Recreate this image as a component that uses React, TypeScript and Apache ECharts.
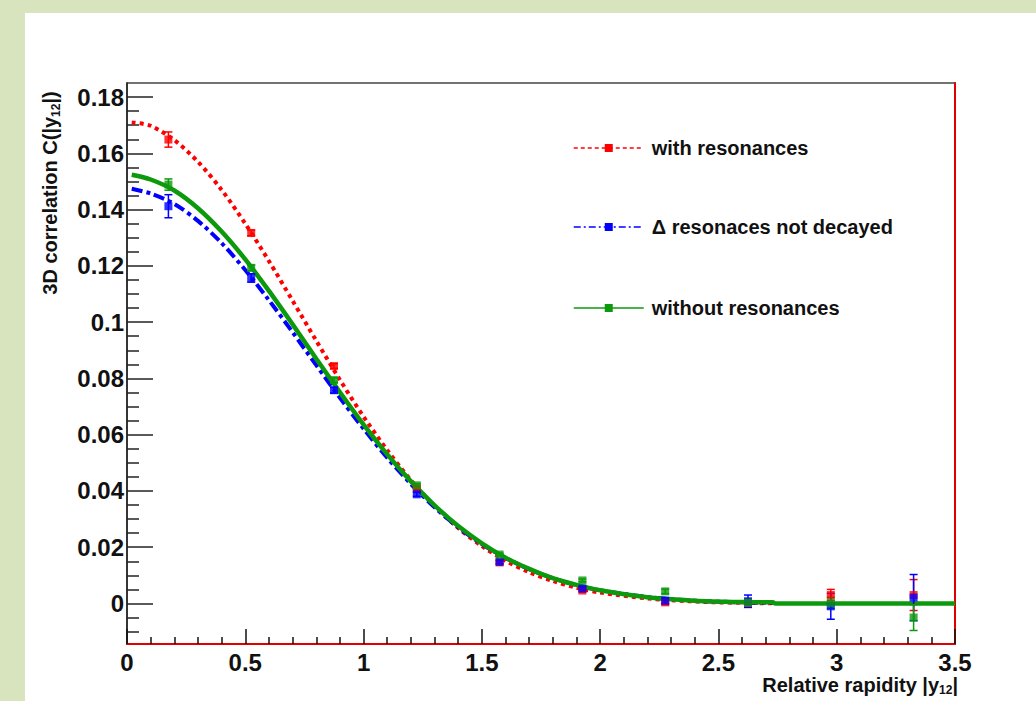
import React, { useEffect, useRef } from "react";
import * as echarts from "echarts";

const FONT = '"Liberation Sans", Arial, Helvetica, sans-serif';

// Histogram bin centres (relative rapidity)
const binX = [0.175, 0.525, 0.875, 1.225, 1.575, 1.925, 2.275, 2.625, 2.975, 3.325];

// Points with error bars
const redPts = [0.1649, 0.1317, 0.0844, 0.041, 0.0146, 0.0046, 0.0004, 0.0002, 0.003, 0.003];
const redErr = [0.0027, 0.001, 0.0008, 0.0006, 0.0005, 0.0005, 0.0008, 0.0012, 0.002, 0.0055];
const bluePts = [0.1412, 0.1157, 0.0758, 0.0388, 0.0148, 0.0053, 0.001, 0.0008, -0.001, 0.0021];
const blueErr = [0.0041, 0.0015, 0.001, 0.0007, 0.0006, 0.0006, 0.001, 0.0022, 0.0046, 0.0082];
const greenPts = [0.1489, 0.1193, 0.0794, 0.042, 0.0174, 0.0082, 0.0043, 0.0003, 0.0002, -0.005];
const greenErr = [0.002, 0.001, 0.0008, 0.0006, 0.0005, 0.0005, 0.0008, 0.0012, 0.002, 0.0046];

// Fitted curves
const curveX = [0.02, 0.1, 0.2, 0.3, 0.4, 0.5, 0.6, 0.7, 0.8, 0.9, 1.0, 1.1, 1.2, 1.3, 1.4, 1.5, 1.6, 1.7, 1.8, 1.9, 2.0, 2.2, 2.4, 2.6, 2.73];
const redCurve = [0.171, 0.1698, 0.1647, 0.157, 0.147, 0.135, 0.1217, 0.1076, 0.0934, 0.0795, 0.0664, 0.0545, 0.0438, 0.0346, 0.0268, 0.0204, 0.0152, 0.0111, 0.008, 0.0056, 0.0039, 0.0018, 0.0007, 0.0002, 0.0001];
const blueCurve = [0.1474, 0.1457, 0.142, 0.136, 0.1281, 0.1185, 0.1078, 0.0964, 0.0847, 0.0731, 0.0621, 0.0518, 0.0425, 0.0342, 0.0271, 0.0211, 0.0162, 0.0122, 0.009, 0.0065, 0.0047, 0.0023, 0.001, 0.0004, 0.0002];
const greenCurveX = [0.02, 0.1, 0.2, 0.3, 0.4, 0.5, 0.6, 0.7, 0.8, 0.9, 1.0, 1.1, 1.2, 1.3, 1.4, 1.5, 1.6, 1.7, 1.8, 1.9, 2.0, 2.2, 2.4, 2.6, 2.73, 2.74, 3.0, 3.5];
const greenCurve = [0.1524, 0.1507, 0.1468, 0.1405, 0.1322, 0.1223, 0.1111, 0.0992, 0.087, 0.0751, 0.0636, 0.053, 0.0434, 0.0349, 0.0275, 0.0214, 0.0163, 0.0123, 0.009, 0.0066, 0.0047, 0.0022, 0.001, 0.0005, 0.0004, 0, 0, 0];

const yMajorTicks = [0, 0.02, 0.04, 0.06, 0.08, 0.1, 0.12, 0.14, 0.16, 0.18];
const yMinorTicks = [-0.01, -0.005, 0.005, 0.01, 0.015, 0.025, 0.03, 0.035, 0.045, 0.05, 0.055, 0.065, 0.07, 0.075, 0.085, 0.09, 0.095, 0.105, 0.11, 0.115, 0.125, 0.13, 0.135, 0.145, 0.15, 0.155, 0.165, 0.17, 0.175];

const NAMES = ["with resonances", "\u0394 resonaces not decayed", "without resonances"];
const COLORS = ["#ff0000", "#0000ff", "#0c990c"];
const LINE_TYPES: any[] = [[4, 4], [11, 4, 4, 4], "solid"];
const LINE_WIDTHS = [4, 4, 4.5];
const LEGEND_TYPES: any[] = [[4, 3], [7, 3, 2, 3], "solid"];
const LEGEND_TOPS = [133, 212, 293];

function pairs(xs: number[], ys: number[]) {
  return xs.map((x, i) => [x, ys[i]]);
}
function triples(xs: number[], ys: number[], es: number[]) {
  return xs.map((x, i) => [x, ys[i], es[i]]);
}

export default function App() {
  const ref = useRef<HTMLDivElement>(null);
  useEffect(() => {
    if (!ref.current) return;
    const chart = echarts.init(ref.current, null, { renderer: "svg" });
    const pts = [redPts, bluePts, greenPts];
    const errs = [redErr, blueErr, greenErr];
    const curves = [pairs(curveX, redCurve), pairs(curveX, blueCurve), pairs(greenCurveX, greenCurve)];

    const series: any[] = [];
    NAMES.forEach((name, i) => {
      series.push({
        name,
        type: "line",
        data: curves[i],
        symbol: "rect",
        symbolSize: 8,
        showSymbol: false,
        smooth: 0.3,
        lineStyle: { color: COLORS[i], width: LINE_WIDTHS[i], type: LINE_TYPES[i] },
        itemStyle: { color: COLORS[i] },
        z: 3,
        silent: true,
      });
    });
    NAMES.forEach((name, i) => {
      const color = COLORS[i];
      series.push({
        name: name + " errors",
        type: "custom",
        data: triples(binX, pts[i], errs[i]),
        encode: { x: 0, y: 1 },
        z: 4,
        silent: true,
        renderItem: (params: any, api: any) => {
          const x = api.value(0);
          const y = api.value(1);
          const e = api.value(2);
          const top = api.coord([x, y + e]);
          const bot = api.coord([x, y - e]);
          const hw = 4;
          const style = { stroke: color, lineWidth: 1.5, fill: null };
          return {
            type: "group",
            children: [
              { type: "line", shape: { x1: top[0], y1: top[1], x2: bot[0], y2: bot[1] }, style },
              { type: "line", shape: { x1: top[0] - hw, y1: top[1], x2: top[0] + hw, y2: top[1] }, style },
              { type: "line", shape: { x1: bot[0] - hw, y1: bot[1], x2: bot[0] + hw, y2: bot[1] }, style },
            ],
          };
        },
      });
      series.push({
        name: name + " points",
        type: "scatter",
        data: pairs(binX, pts[i]),
        symbol: "rect",
        symbolSize: 8,
        itemStyle: { color },
        z: 5,
        silent: true,
      });
    });

    const tickLabel = { fontFamily: FONT, fontWeight: "bold", fontSize: 24, color: "#111" };

    chart.setOption({
      animation: false,
      grid: { left: 127, right: 81, top: 83, bottom: 57, show: true, borderColor: "#444", borderWidth: 1.5, backgroundColor: "transparent", outerBoundsMode: "none" },
      legend: NAMES.map((name, i) => ({
        data: [{ name, lineStyle: { width: 1.5, type: LEGEND_TYPES[i], color: COLORS[i] }, itemStyle: { color: COLORS[i] } }],
        left: 568,
        top: LEGEND_TOPS[i],
        itemWidth: 70,
        itemHeight: 10,
        selectedMode: false,
        textStyle: { fontFamily: FONT, fontWeight: "bold", fontSize: 20, color: "#111", padding: [0, 0, 0, 3] },
      })),
      xAxis: {
        type: "value",
        min: 0,
        max: 3.5,
        interval: 0.5,
        axisLine: { show: true, onZero: false, lineStyle: { color: "#e00000", width: 2 } },
        axisTick: { show: true, inside: true, length: 15, lineStyle: { color: "#111", width: 1.5 } },
        minorTick: { show: true, splitNumber: 5, length: 7, lineStyle: { color: "#111", width: 1.5 } },
        splitLine: { show: false },
        minorSplitLine: { show: false },
        axisLabel: { ...tickLabel, margin: 6 },
      },
      yAxis: [
        {
          type: "value",
          min: -0.0144,
          max: 0.185,
          position: "left",
          axisLine: { show: true, onZero: false, lineStyle: { color: "#222", width: 1.5 } },
          axisTick: { show: true, inside: true, length: 26, customValues: yMajorTicks, lineStyle: { color: "#222", width: 1.5 } },
          axisLabel: { ...tickLabel, margin: 3, customValues: yMajorTicks, formatter: (v: number) => String(Math.round(v * 1000) / 1000) },
          splitLine: { show: false },
        },
        {
          type: "value",
          min: -0.0144,
          max: 0.185,
          position: "left",
          axisLine: { show: false },
          axisTick: { show: true, inside: true, length: 12, customValues: yMinorTicks, lineStyle: { color: "#222", width: 1.5 } },
          axisLabel: { show: false },
          splitLine: { show: false },
        },
        {
          type: "value",
          min: -0.0144,
          max: 0.185,
          position: "right",
          axisLine: { show: true, onZero: false, lineStyle: { color: "#e00000", width: 2 } },
          axisTick: { show: false },
          axisLabel: { show: false },
          splitLine: { show: false },
        },
      ],
      graphic: [
        {
          type: "text",
          x: 50,
          y: 193,
          rotation: Math.PI / 2,
          style: {
            text: "{a|3D correlation C(|y}{s|12}{a||)}",
            align: "center",
            verticalAlign: "middle",
            textAlign: "center",
            textVerticalAlign: "middle",
            rich: {
              a: { fontFamily: FONT, fontWeight: "bold", fontSize: 20, lineHeight: 24, fill: "#111", color: "#111" },
              s: { fontFamily: FONT, fontWeight: "bold", fontSize: 12, lineHeight: 8, verticalAlign: "bottom", fill: "#111", color: "#111" },
            },
          },
        },
        {
          type: "text",
          x: 958,
          y: 674,
          style: {
            text: "{a|Relative rapidity |y}{s|12}{a||}",
            align: "right",
            verticalAlign: "top",
            textAlign: "right",
            textVerticalAlign: "top",
            rich: {
              a: { fontFamily: FONT, fontWeight: "bold", fontSize: 20, lineHeight: 22, fill: "#111", color: "#111" },
              s: { fontFamily: FONT, fontWeight: "bold", fontSize: 12, lineHeight: 8, verticalAlign: "bottom", fill: "#111", color: "#111" },
            },
          },
        },
      ],
      series,
    });
    return () => chart.dispose();
  }, []);

  return (
    <div style={{ position: "fixed", left: 0, top: 0, width: 1036, height: 701, background: "#d7e4bd", overflow: "hidden" }}>
      <div style={{ position: "absolute", left: 25, top: 13, right: 0, bottom: 0, background: "#ffffff" }} />
      <div ref={ref} style={{ position: "absolute", left: 0, top: 0, width: 1036, height: 701 }} />
    </div>
  );
}
